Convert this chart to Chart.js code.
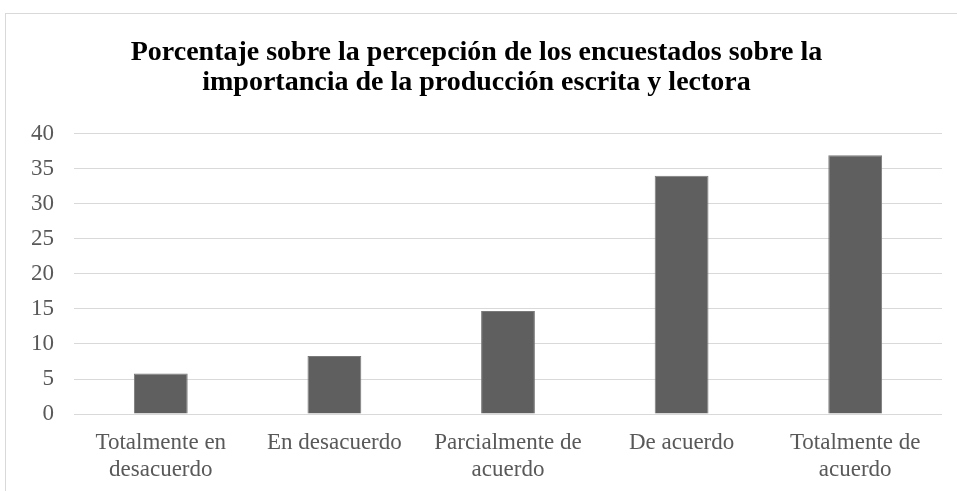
<!DOCTYPE html>
<html>
<head>
<meta charset="utf-8">
<script src="https://cdn.jsdelivr.net/npm/chart.js@4"></script>
<style>
  html, body { margin: 0; padding: 0; background: #fff; }
  #wrap { position: relative; width: 957px; height: 491px; }
  #frame {
    position: absolute; left: 5px; top: 13px; width: 960px; height: 490px;
    border-top: 1px solid #d9d9d9; border-left: 1px solid #d9d9d9;
  }
  canvas { position: absolute; left: 0; top: 0; }
</style>
</head>
<body>
<div id="wrap">
  <div id="frame"></div>
  <canvas id="percepcionChart" width="957" height="491"></canvas>
</div>
<script>
const categories = [
  ["Totalmente en", "desacuerdo"],
  "En desacuerdo",
  ["Parcialmente de", "acuerdo"],
  "De acuerdo",
  ["Totalmente de", "acuerdo"],
];
const percentages = [5.8, 8.3, 14.7, 34, 36.9];
const titleLines = [
  "Porcentaje sobre la percepción de los encuestados sobre la",
  "importancia de la producción escrita y lectora",
];

const serif = "'Liberation Serif', 'Times New Roman', serif";

const chartElement = document.getElementById("percepcionChart");
new Chart(chartElement, {
  type: "bar",
  data: {
    labels: categories,
    datasets: [
      {
        label: "Porcentaje",
        data: percentages,
        backgroundColor: "#5f5f5f",
        borderColor: "#7a7a7a",
        borderWidth: 1,
        barPercentage: 0.31,
        categoryPercentage: 1,
      },
    ],
  },
  options: {
    responsive: false,
    animation: false,
    layout: {
      padding: { left: 11, right: 15, top: 0, bottom: 0 },
    },
    plugins: {
      legend: { display: false },
      tooltip: { enabled: false },
      title: {
        display: true,
        text: titleLines,
        color: "#000",
        font: { family: serif, size: 28, weight: "bold", lineHeight: 1.1 },
        padding: { top: 37, bottom: 35 },
      },
    },
    scales: {
      x: {
        grid: { display: false },
        border: { display: false },
        ticks: {
          color: "#595959",
          font: { family: serif, size: 23, lineHeight: 1.15 },
          maxRotation: 0,
          autoSkip: false,
          padding: 8,
        },
      },
      y: {
        min: 0,
        max: 40,
        grid: { color: "#d9d9d9", lineWidth: 1, drawTicks: false },
        border: { display: false },
        ticks: {
          stepSize: 5,
          color: "#595959",
          font: { family: serif, size: 23 },
          padding: 20,
        },
      },
    },
  },
});
</script>
</body>
</html>
